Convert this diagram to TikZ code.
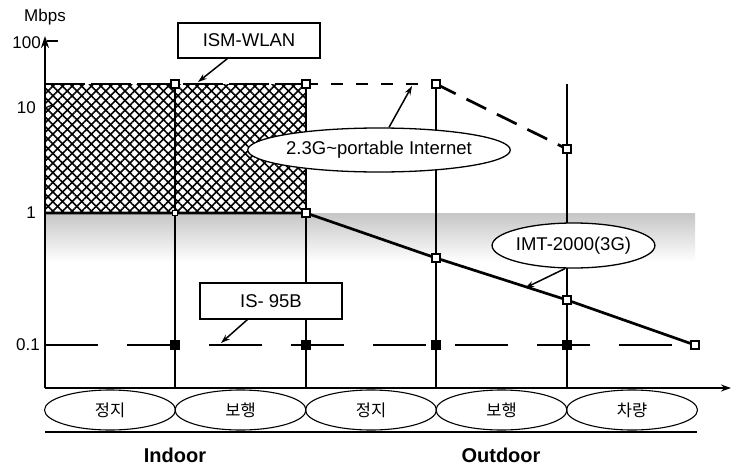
\documentclass[tikz,border=0pt]{standalone}
\usepackage{fontspec}
\setmainfont{Liberation Sans}
\newfontfamily\kr{Noto Sans CJK KR}
\usetikzlibrary{shapes.geometric,patterns.meta,arrows.meta}
\begin{document}
\begin{tikzpicture}[x=1pt,y=-1pt,
  lbl/.style={font=\fontsize{17}{19}\selectfont},
  box/.style={draw,line width=1.3pt,fill=white,minimum width=142pt,minimum height=35pt,inner sep=0pt,font=\fontsize{18.5}{20}\selectfont},
  oval/.style={ellipse,draw,line width=1.3pt,fill=white,inner sep=0pt,font=\fontsize{18.5}{20}\selectfont},
  cat/.style={ellipse,draw,line width=1.1pt,minimum width=131pt,minimum height=40pt,inner sep=0pt,font=\kr\fontsize{16.5}{18}\selectfont},
  opensq/.style={rectangle,draw,line width=2.4pt,fill=white,minimum size=7.5pt,inner sep=0pt},
  fillsq/.style={rectangle,draw,fill=black,minimum size=9pt,inner sep=0pt},
  gridl/.style={line width=1.6pt},
  wl/.style={line width=2.7pt},
  ptr/.style={-{Stealth[length=9pt,width=6pt]},line width=1.5pt}
]
\useasboundingbox (0,0) rectangle (732,466);
% points
\coordinate (W1) at (175,84);
\coordinate (W2) at (306,84);
\coordinate (W3) at (436,84);
\coordinate (W4) at (567,149);
\coordinate (I1) at (175,213);
\coordinate (I2) at (306,213);
\coordinate (I3) at (436,258);
\coordinate (I4) at (567,300);
\coordinate (I5) at (695,345);
\coordinate (S1) at (175,345);
\coordinate (S2) at (306,345);
\coordinate (S3) at (436,345);
\coordinate (S4) at (567,345);
\coordinate (O) at (45,388);
\coordinate (Ytop) at (45,36);
\coordinate (Xend) at (731,388);
\coordinate (G1) at (175,388);
\coordinate (G2) at (306,388);
\coordinate (G3) at (436,388);
\coordinate (G4) at (567,388);
\coordinate (WL0) at (45,84);
\coordinate (IL0) at (45,213);
\coordinate (SL0) at (45,345);
% gray band
\shade[top color=gray!45,bottom color=white] (45,213) rectangle (695,262);
% hatched area
\fill[white] (WL0) rectangle (I2);
\fill[pattern={Lines[angle=45,distance=6.8pt,line width=1.6pt]}] (WL0) rectangle (I2);
\fill[pattern={Lines[angle=-45,distance=6.8pt,line width=1.6pt]}] (WL0) rectangle (I2);
% grid lines
\draw[gridl] (W1) -- (G1);
\draw[gridl] (W2) -- (G2);
\draw[gridl] (W3) -- (G3);
\draw[gridl] (W3 -| W4) -- (G4);
% data lines
\draw[wl,dash pattern=on 40pt off 6pt] (WL0) -- (W1) -- (W2);
\draw[wl,dash pattern=on 12pt off 13pt] (W2) -- (W3);
\draw[wl,dash pattern=on 22pt off 12pt] (W3) -- (W4);
\draw[wl] (IL0) -- (I1) -- (I2) -- (I3) -- (I4) -- (I5);
\draw[wl,dash pattern=on 53pt off 29pt] (SL0) -- (I5);
% axes
\draw[line width=2pt,-{Stealth[length=12pt,width=8pt]}] (O) -- (Ytop);
\draw[line width=1.6pt,-{Stealth[length=10pt,width=7pt]}] (O) -- (Xend);
\draw[line width=1.5pt] (47,41) -- (58,41);
\draw[line width=1.2pt] (45,108) -- (52,105);
% markers
\foreach \p in {W1,W2,W3,W4,I2,I3,I4,I5} \node[opensq] (m\p) at (\p) {};
\node[rectangle,draw,line width=1.2pt,fill=white,minimum size=5pt,inner sep=0pt] (mI1) at (I1) {};
\foreach \p in {S1,S2,S3,S4} \node[fillsq] (m\p) at (\p) {};
% axis labels
\node[lbl] (mbps) at (45,17) {Mbps};
\node[lbl,anchor=east,inner sep=0pt] (t100) at (41,43) {100};
\node[lbl,anchor=east,inner sep=0pt] (t10) at (36,108) {10};
\node[lbl,anchor=east,inner sep=0pt] (t1) at (36,213) {1};
\node[lbl,anchor=east,inner sep=0pt] (t01) at (40,345) {0.1};
% callouts
\node[box] (ism) at (249,40.5) {ISM-WLAN};
\node[box,minimum height=36pt] (is95) at (271,301) {IS- 95B};
\node[oval,minimum width=242pt,minimum height=44pt] (port) at (379,150) {2.3G\textasciitilde portable Internet};
\node[oval,minimum width=153pt,minimum height=45pt] (imt) at (573.5,245.5) {IMT-2000(3G)};
\coordinate (aISM) at (198,82);
\coordinate (aIS) at (221,343);
\coordinate (aPort) at (412,86);
\coordinate (aIMT) at (525,288);
\draw[ptr] ([xshift=50pt]ism.south west) -- (aISM);
\draw[ptr] ([xshift=48pt]is95.south west) -- (aIS);
\draw[ptr] ([xshift=10pt]port.north) -- (aPort);
\draw[ptr] (imt.250) -- (aIMT);
% categories
\node[cat] (c1) at (110,410) {정지};
\node[cat] (c2) at (240.5,410) {보행};
\node[cat] (c3) at (371,410) {정지};
\node[cat] (c4) at (501.5,410) {보행};
\node[cat] (c5) at (632,410) {차량};
\draw[line width=1.6pt] (45,432) -- (697,432);
\node[font=\bfseries\fontsize{20}{22}\selectfont] (indoor) at (175,455) {Indoor};
\node[font=\bfseries\fontsize{20}{22}\selectfont] (outdoor) at (501,455) {Outdoor};
\end{tikzpicture}
\end{document}
